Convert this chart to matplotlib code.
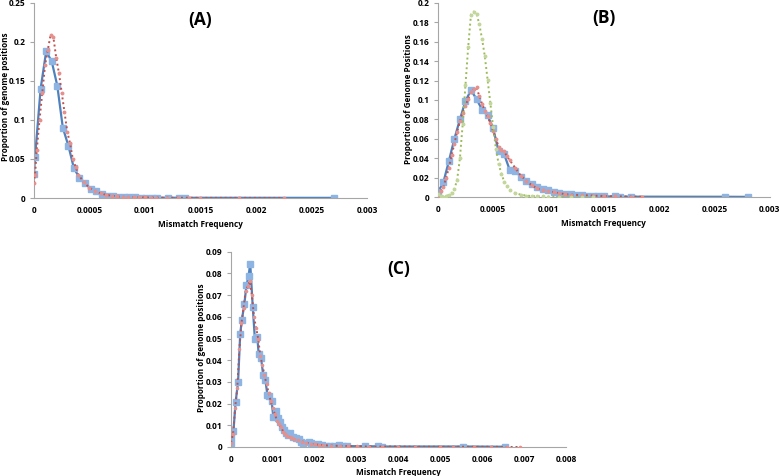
import matplotlib
matplotlib.use("Agg")
import matplotlib.pyplot as plt
from matplotlib.ticker import FuncFormatter, MultipleLocator

# ---- panel A ----
a_blue_x = [0, 0.00001, 0.00006, 0.00011, 0.00016, 0.00021, 0.00026, 0.00031, 0.00036,
            0.00041, 0.00046, 0.00051, 0.00056, 0.00061, 0.00066, 0.00071, 0.00076,
            0.00081, 0.00086, 0.00091, 0.00096, 0.00101, 0.00106, 0.00111, 0.00121,
            0.00131, 0.00136, 0.0027]
a_blue_y = [0.031, 0.053, 0.140, 0.188, 0.175, 0.144, 0.090, 0.067, 0.038, 0.026, 0.019,
            0.012, 0.009, 0.0055, 0.0025, 0.002, 0.0015, 0.001, 0.0012, 0.0008, 0.0006,
            0.0005, 0.0004, 0.0004, 0.0004, 0.0003, 0.0003, 0.0002]
a_red_x = [0, 0.00001, 0.000025, 0.00005, 0.000075, 0.0001, 0.000125, 0.00015, 0.000175,
           0.0002, 0.000225, 0.00025, 0.000275, 0.0003, 0.000325, 0.00035, 0.000375,
           0.0004, 0.00045, 0.0005, 0.00055, 0.0006, 0.00065, 0.0007, 0.00075, 0.0008,
           0.00085, 0.0009, 0.00095, 0.001, 0.00105, 0.0011, 0.0012, 0.0013, 0.0014,
           0.0015, 0.00185, 0.00225]
a_red_y = [0.019, 0.030, 0.061, 0.100, 0.135, 0.170, 0.190, 0.209, 0.206, 0.180, 0.160,
           0.135, 0.110, 0.085, 0.070, 0.050, 0.040, 0.030, 0.020, 0.013, 0.009, 0.006,
           0.004, 0.003, 0.002, 0.0015, 0.0012, 0.001, 0.0008, 0.0007, 0.0006, 0.0005,
           0.0004, 0.0003, 0.0003, 0.0002, 0.0002, 0.0001]

# ---- panel B ----
b_blue_x = [0, 0.00005, 0.0001, 0.00015, 0.0002, 0.00025, 0.0003, 0.00035, 0.0004,
            0.00045, 0.0005, 0.00055, 0.0006, 0.00065, 0.0007, 0.00075, 0.0008, 0.00085,
            0.0009, 0.00095, 0.001, 0.00105, 0.0011, 0.00115, 0.0012, 0.00125, 0.0013,
            0.00135, 0.0014, 0.00145, 0.0015, 0.0016, 0.00165, 0.00175, 0.0026, 0.0028]
b_blue_y = [0.005, 0.015, 0.037, 0.060, 0.080, 0.099, 0.110, 0.101, 0.090, 0.084, 0.071,
            0.047, 0.044, 0.028, 0.027, 0.021, 0.017, 0.013, 0.010, 0.008, 0.007, 0.0055,
            0.0045, 0.0035, 0.003, 0.002, 0.0024, 0.0014, 0.001, 0.0008, 0.0007, 0.0006,
            0.0005, 0.0004, 0.0003, 0.0002]
b_red_x = [0, 0.000025, 0.00005, 0.000075, 0.0001, 0.000125, 0.00015, 0.000175, 0.0002,
           0.000225, 0.00025, 0.000275, 0.0003, 0.000325, 0.00035, 0.000375, 0.0004,
           0.000425, 0.00045, 0.000475, 0.0005, 0.000525, 0.00055, 0.000575, 0.0006,
           0.000625, 0.00065, 0.0007, 0.00075, 0.0008, 0.00085, 0.0009, 0.00095, 0.001,
           0.00105, 0.0011, 0.00115, 0.0012, 0.0013, 0.0014, 0.0015, 0.0016, 0.00175,
           0.00185]
b_red_y = [0.002, 0.006, 0.010, 0.020, 0.030, 0.043, 0.055, 0.067, 0.078, 0.087, 0.094,
           0.101, 0.108, 0.111, 0.113, 0.104, 0.096, 0.089, 0.083, 0.076, 0.068, 0.060,
           0.052, 0.048, 0.047, 0.042, 0.038, 0.030, 0.022, 0.017, 0.012, 0.009, 0.007,
           0.006, 0.005, 0.004, 0.003, 0.0025, 0.002, 0.0015, 0.001, 0.0008, 0.0005,
           0.0003]
b_green_x = [0, 0.000025, 0.00005, 0.000075, 0.0001, 0.000125, 0.00015, 0.000175, 0.0002,
             0.000225, 0.00025, 0.000275, 0.0003, 0.000325, 0.00035, 0.000375, 0.0004,
             0.000425, 0.00045, 0.000475, 0.0005, 0.000525, 0.00055, 0.000575, 0.0006,
             0.000625, 0.00065, 0.0007, 0.00075, 0.0008, 0.00085, 0.0009, 0.00095, 0.001,
             0.0011, 0.0012, 0.0013, 0.0014]
b_green_y = [0.003, 0.001, 0.0005, 0.001, 0.002, 0.004, 0.008, 0.018, 0.040, 0.075, 0.115,
             0.155, 0.188, 0.191, 0.189, 0.178, 0.163, 0.145, 0.121, 0.097, 0.072, 0.050,
             0.034, 0.024, 0.016, 0.011, 0.0075, 0.004, 0.0025, 0.0015, 0.001, 0.0008,
             0.0006, 0.0005, 0.0004, 0.0003, 0.0002, 0.0001]

# ---- panel C ----
c_blue_x = [0, 0.00001, 0.00006, 0.00011, 0.00017, 0.00022, 0.00026, 0.00032, 0.00037,
            0.00042, 0.00046, 0.00052, 0.00057, 0.00063, 0.00066, 0.00072, 0.00077,
            0.00082, 0.00087, 0.00092, 0.00097, 0.00101, 0.00107, 0.00112, 0.00117,
            0.00122, 0.00127, 0.00132, 0.00137, 0.00142, 0.00147, 0.00156, 0.00162,
            0.00167, 0.00172, 0.00187, 0.00192, 0.00197, 0.00207, 0.00217, 0.00227,
            0.00237, 0.00247, 0.00257, 0.00267, 0.00277, 0.0032, 0.0035, 0.0036,
            0.00555, 0.00655]
c_blue_y = [0.0045, 0.0017, 0.0074, 0.0206, 0.030, 0.052, 0.0585, 0.066, 0.0746, 0.0788,
            0.0846, 0.0647, 0.050, 0.0507, 0.043, 0.041, 0.033, 0.031, 0.024, 0.0237,
            0.0214, 0.014, 0.0166, 0.0132, 0.0115, 0.0094, 0.0078, 0.0063, 0.0057,
            0.0063, 0.0048, 0.0043, 0.0037, 0.0025, 0.0017, 0.0025, 0.002, 0.001, 0.0012,
            0.0008, 0.0006, 0.0005, 0.0004, 0.0009, 0.0005, 0.0004, 0.0003, 0.0003,
            0.0002, 0.0002, 0.0001]
c_red_x = [0, 0.00005, 0.0001, 0.00015, 0.0002, 0.00025, 0.0003, 0.00035, 0.0004, 0.00045,
           0.0005, 0.00055, 0.0006, 0.00065, 0.0007, 0.00075, 0.0008, 0.00085, 0.0009,
           0.00095, 0.001, 0.00105, 0.0011, 0.00115, 0.0012, 0.00125, 0.0013, 0.00135,
           0.0014, 0.00145, 0.0015, 0.0016, 0.0017, 0.0018, 0.0019, 0.002, 0.0021,
           0.0022, 0.0024, 0.0026, 0.0028, 0.003, 0.0033, 0.0036, 0.004, 0.0044, 0.005,
           0.0053, 0.0058, 0.0062, 0.0066, 0.0069]
c_red_y = [0.002, 0.006, 0.018, 0.027, 0.045, 0.057, 0.064, 0.072, 0.074, 0.0765, 0.070,
           0.060, 0.055, 0.050, 0.042, 0.038, 0.033, 0.029, 0.025, 0.021, 0.018, 0.015,
           0.012, 0.0105, 0.009, 0.007, 0.006, 0.005, 0.0045, 0.004, 0.0035, 0.003,
           0.0025, 0.002, 0.0015, 0.0012, 0.001, 0.0008, 0.0006, 0.0005, 0.0004, 0.0003,
           0.0002, 0.0002, 0.0002, 0.0001, 0.0001, 0.0001, 0.0001, 0.0001, 0.0, 0.0]

BLUE = "#4F81BD"
BLUE_M = "#8DB4E2"
RED = "#C0504D"
RED_M = "#E6908D"
GREEN = "#9BBB59"
GREEN_M = "#C3D69B"

plt.rcParams["font.family"] = ["Open Sans", "DejaVu Sans"]
plt.rcParams["font.weight"] = "bold"

fig = plt.figure(figsize=(7.79, 4.76), dpi=100)


def style_axes(ax, xmax, xstep, ymax, ystep, ylabel, ylab_pos):
    ax.set_xlim(0, xmax)
    ax.set_ylim(0, ymax)
    ax.xaxis.set_major_locator(MultipleLocator(xstep))
    ax.yaxis.set_major_locator(MultipleLocator(ystep))
    fmt = FuncFormatter(lambda v, p: "%g" % round(v, 6))
    ax.xaxis.set_major_formatter(fmt)
    ax.yaxis.set_major_formatter(fmt)
    for s in ("top", "right"):
        ax.spines[s].set_visible(False)
    for s in ("left", "bottom"):
        ax.spines[s].set_color("#a6a6a6")
        ax.spines[s].set_linewidth(0.8)
    ax.tick_params(axis="both", labelsize=6, color="#a6a6a6", length=3, width=0.8, pad=3)
    ax.tick_params(axis="x", length=0, pad=6)
    for lab in ax.get_xticklabels() + ax.get_yticklabels():
        lab.set_fontweight("bold")
    ax.set_xlabel("Mismatch Frequency", fontsize=5.9, fontweight="bold", labelpad=3)
    ax.set_ylabel(ylabel, fontsize=5.9, fontweight="bold")
    ax.yaxis.set_label_coords(*ylab_pos)


def blue(ax, x, y, ms=4.2):
    ax.plot(x, y, color=BLUE, lw=1.6, marker="s", ms=ms, mfc=BLUE_M, mec=BLUE_M,
            zorder=2)


def dotted(ax, x, y, c, mc, ms=1.8):
    ax.plot(x, y, color=c, lw=1.4, ls=(0, (1, 1.5)), marker="o", ms=ms, mfc=mc,
            mec=mc, zorder=3)


# (A)
ax_a = fig.add_axes([0.0436, 0.584, 0.4275, 0.41])
blue(ax_a, a_blue_x, a_blue_y)
dotted(ax_a, a_red_x, a_red_y, RED, RED_M)
style_axes(ax_a, 0.003, 0.0005, 0.25, 0.05, "Proportion of genome positions", (-0.072, 0.52))
ax_a.text(0.5, 0.91, "(A)", transform=ax_a.transAxes, ha="center", va="center",
          fontsize=12.5, fontweight="bold")

# (B)
ax_b = fig.add_axes([0.562, 0.586, 0.426, 0.408])
blue(ax_b, b_blue_x, b_blue_y)
dotted(ax_b, b_red_x, b_red_y, RED, RED_M)
dotted(ax_b, b_green_x, b_green_y, GREEN, GREEN_M)
style_axes(ax_b, 0.003, 0.0005, 0.2, 0.02, "Proportion of Genome Positions", (-0.075, 0.505))
ax_b.text(0.5, 0.92, "(B)", transform=ax_b.transAxes, ha="center", va="center",
          fontsize=12.5, fontweight="bold")

# (C)
ax_c = fig.add_axes([0.2965, 0.061, 0.430, 0.41])
blue(ax_c, c_blue_x, c_blue_y, ms=3.8)
dotted(ax_c, c_red_x, c_red_y, RED, RED_M, ms=1.6)
style_axes(ax_c, 0.008, 0.001, 0.09, 0.01, "Proportion of genome positions", (-0.075, 0.51))
ax_c.text(0.5, 0.91, "(C)", transform=ax_c.transAxes, ha="center", va="center",
          fontsize=12.5, fontweight="bold")

fig.savefig("out.png", dpi=100)
